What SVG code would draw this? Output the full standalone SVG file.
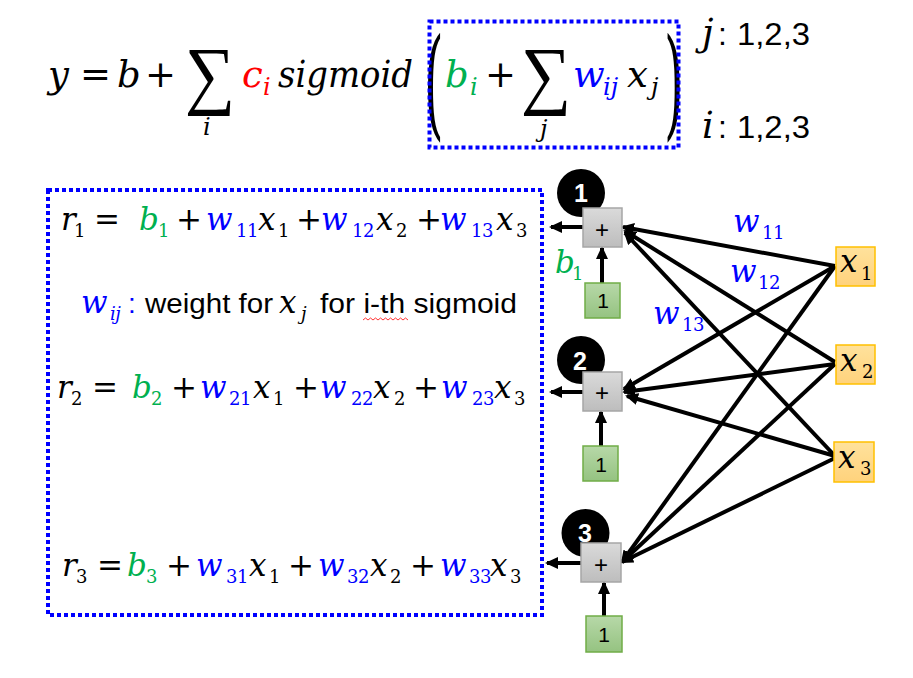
<svg xmlns="http://www.w3.org/2000/svg" width="913" height="678" viewBox="0 0 913 678">
<defs>
<style>
.mi{font-family:"DejaVu Serif","Liberation Serif",serif;font-style:italic}
.up{font-family:"DejaVu Serif","Liberation Serif",serif}
.sg{font-family:"Liberation Serif","DejaVu Serif",serif}
.sans{font-family:"Liberation Sans","Noto Sans",sans-serif}
.big{font-size:37px}
.bsub{font-size:24px}
.eq{font-size:31px}
.sub{font-size:18px;letter-spacing:-0.5px}
.blue{fill:#0000ff}
.green{fill:#00b050}
.red{fill:#ff0000}
.dash{fill:none;stroke:#0000ff;stroke-width:4;stroke-dasharray:4 3}
.conn{stroke:#000;stroke-width:4;fill:none}
.plus{fill:url(#gGray);stroke:#a6a6a6;stroke-width:1.5}
.one{fill:url(#gGreen);stroke:#70ad47;stroke-width:1.5}
.inp{fill:url(#gYellow);stroke:#ffc000;stroke-width:1.5}
.num{font-family:"Liberation Sans","DejaVu Sans",sans-serif;font-weight:bold;font-size:25px;fill:#fff;text-anchor:middle}
.lbl{font-family:"Liberation Sans","DejaVu Sans",sans-serif;font-size:21px;fill:#000;text-anchor:middle}
</style>
<linearGradient id="gGray" x1="0" y1="0" x2="0" y2="1"><stop offset="0" stop-color="#dadada"/><stop offset="1" stop-color="#bdbdbd"/></linearGradient>
<linearGradient id="gGreen" x1="0" y1="0" x2="0" y2="1"><stop offset="0" stop-color="#b7d8a8"/><stop offset="1" stop-color="#95c381"/></linearGradient>
<linearGradient id="gYellow" x1="0" y1="0" x2="0" y2="1"><stop offset="0" stop-color="#ffe29c"/><stop offset="1" stop-color="#ffd27c"/></linearGradient>
<marker id="ah" markerUnits="userSpaceOnUse" markerWidth="14" markerHeight="12" viewBox="0 0 14 12" refX="11" refY="6" orient="auto"><path d="M0,0 L13,6 L0,12 z" fill="#000"/></marker>
</defs>
<rect x="0" y="0" width="913" height="678" fill="#fff"/>

<g id="formula">
<text class="mi big" x="48" y="87">y</text>
<text class="up big" x="80" y="87">=</text>
<text class="mi big" x="117" y="87">b</text>
<text class="up big" x="145" y="87">+</text>
<text class="sg" x="0" y="0" style="font-size:76px" transform="translate(185 100) scale(0.93 1)">∑</text>
<text class="mi bsub" x="203" y="135">i</text>
<text class="mi big red" x="242" y="87">c</text>
<text class="mi bsub red" x="263" y="95">i</text>
<text class="mi big" x="278" y="87" textLength="135" lengthAdjust="spacingAndGlyphs">sigmoid</text>
<text class="up" x="0" y="0" style="font-size:120px" transform="translate(424 124) scale(0.42 1)">(</text>
<text class="mi big green" x="445" y="87">b</text>
<text class="mi bsub green" x="470" y="95">i</text>
<text class="up big" x="485" y="87">+</text>
<text class="sg" x="0" y="0" style="font-size:76px" transform="translate(521 100) scale(0.93 1)">∑</text>
<text class="mi bsub" x="540" y="137">j</text>
<text class="mi big blue" x="573" y="87">w</text>
<text class="mi bsub blue" x="603" y="95">ij</text>
<text class="mi big" x="627" y="87">x</text>
<text class="mi bsub" x="651" y="95">j</text>
<text class="up" x="0" y="0" style="font-size:120px" transform="translate(664 124) scale(0.42 1)">)</text>
<rect class="dash" x="429.5" y="21.5" width="249" height="126"/>
<text class="mi big" x="702" y="45">j</text>
<text class="sans" x="718" y="45" style="font-size:32px">:</text>
<text class="sans" x="737" y="45" style="font-size:32px" textLength="73" lengthAdjust="spacingAndGlyphs">1,2,3</text>
<text class="mi big" x="702" y="138">i</text>
<text class="sans" x="718" y="138" style="font-size:32px">:</text>
<text class="sans" x="737" y="138" style="font-size:32px" textLength="73" lengthAdjust="spacingAndGlyphs">1,2,3</text>
</g>

<g id="equations">
<rect class="dash" x="48" y="190" width="494" height="425"/>
<text class="eq">
<tspan class="mi" x="61" y="230">r</tspan><tspan class="up sub" x="74" y="237">1</tspan>
<tspan class="up" x="94" y="230">=</tspan>
<tspan class="mi green" x="139" y="230">b</tspan><tspan class="up sub green" x="158" y="237">1</tspan>
<tspan class="up" x="176" y="230">+</tspan>
<tspan class="mi blue" x="206" y="230">w</tspan><tspan class="up sub blue" x="236" y="237">11</tspan>
<tspan class="mi" x="258" y="230">x</tspan><tspan class="up sub" x="278" y="237">1</tspan>
<tspan class="up" x="296" y="230">+</tspan>
<tspan class="mi blue" x="321" y="230">w</tspan><tspan class="up sub blue" x="352" y="237">12</tspan>
<tspan class="mi" x="376" y="230">x</tspan><tspan class="up sub" x="396" y="237">2</tspan>
<tspan class="up" x="416" y="230">+</tspan>
<tspan class="mi blue" x="440" y="230">w</tspan><tspan class="up sub blue" x="471" y="237">13</tspan>
<tspan class="mi" x="496" y="230">x</tspan><tspan class="up sub" x="516" y="237">3</tspan>
</text>
<text class="eq">
<tspan class="mi blue" x="81" y="313">w</tspan><tspan class="mi sub blue" x="110" y="320">ij</tspan><tspan class="sans blue" x="128" y="313" style="font-size:28px">:</tspan>
</text>
<text class="sans" x="145" y="313" style="font-size:27px" textLength="128" lengthAdjust="spacingAndGlyphs">weight for</text>
<text class="mi eq" x="279" y="313">x</text>
<text class="mi sub" x="301" y="320">j</text>
<text class="sans" x="320" y="313" style="font-size:27px" textLength="197" lengthAdjust="spacingAndGlyphs">for i-th sigmoid</text>
<path d="M363,320 l2.5,-2 l2.5,2 l2.5,-2 l2.5,2 l2.5,-2 l2.5,2 l2.5,-2 l2.5,2 l2.5,-2 l2.5,2 l2.5,-2 l2.5,2 l2.5,-2 l2.5,2 l2.5,-2 l2.5,2 l2.5,-2 l2.5,2" fill="none" stroke="#ff0000" stroke-width="0.8"/>
<text class="eq">
<tspan class="mi" x="57" y="398">r</tspan><tspan class="up sub" x="71" y="405">2</tspan>
<tspan class="up" x="92" y="398">=</tspan>
<tspan class="mi green" x="132" y="398">b</tspan><tspan class="up sub green" x="151" y="405">2</tspan>
<tspan class="up" x="171" y="398">+</tspan>
<tspan class="mi blue" x="200" y="398">w</tspan><tspan class="up sub blue" x="229" y="405">21</tspan>
<tspan class="mi" x="253" y="398">x</tspan><tspan class="up sub" x="273" y="405">1</tspan>
<tspan class="up" x="293" y="398">+</tspan>
<tspan class="mi blue" x="320" y="398">w</tspan><tspan class="up sub blue" x="351" y="405">22</tspan>
<tspan class="mi" x="373" y="398">x</tspan><tspan class="up sub" x="394" y="405">2</tspan>
<tspan class="up" x="413" y="398">+</tspan>
<tspan class="mi blue" x="441" y="398">w</tspan><tspan class="up sub blue" x="472" y="405">23</tspan>
<tspan class="mi" x="494" y="398">x</tspan><tspan class="up sub" x="514" y="405">3</tspan>
</text>
<text class="eq">
<tspan class="mi" x="62" y="576">r</tspan><tspan class="up sub" x="76" y="583">3</tspan>
<tspan class="up" x="97" y="576">=</tspan>
<tspan class="mi green" x="127" y="576">b</tspan><tspan class="up sub green" x="146" y="583">3</tspan>
<tspan class="up" x="166" y="576">+</tspan>
<tspan class="mi blue" x="196" y="576">w</tspan><tspan class="up sub blue" x="226" y="583">31</tspan>
<tspan class="mi" x="249" y="576">x</tspan><tspan class="up sub" x="269" y="583">1</tspan>
<tspan class="up" x="288" y="576">+</tspan>
<tspan class="mi blue" x="318" y="576">w</tspan><tspan class="up sub blue" x="347" y="583">32</tspan>
<tspan class="mi" x="370" y="576">x</tspan><tspan class="up sub" x="390" y="583">2</tspan>
<tspan class="up" x="410" y="576">+</tspan>
<tspan class="mi blue" x="440" y="576">w</tspan><tspan class="up sub blue" x="469" y="583">33</tspan>
<tspan class="mi" x="490" y="576">x</tspan><tspan class="up sub" x="510" y="583">3</tspan>
</text>
</g>

<g id="connectors">
<line class="conn" x1="835" y1="266" x2="623" y2="227" marker-end="url(#ah)"/>
<line class="conn" x1="835" y1="362" x2="625" y2="231" marker-end="url(#ah)"/>
<line class="conn" x1="835" y1="456" x2="625" y2="233" marker-end="url(#ah)"/>
<line class="conn" x1="835" y1="266" x2="624" y2="389" marker-end="url(#ah)"/>
<line class="conn" x1="835" y1="364" x2="624" y2="392" marker-end="url(#ah)"/>
<line class="conn" x1="835" y1="456" x2="627" y2="396" marker-end="url(#ah)"/>
<line class="conn" x1="835" y1="266" x2="622" y2="562" marker-end="url(#ah)"/>
<line class="conn" x1="835" y1="364" x2="622" y2="562" marker-end="url(#ah)"/>
<line class="conn" x1="835" y1="458" x2="622" y2="562" marker-end="url(#ah)"/>
<line class="conn" x1="583" y1="227" x2="551" y2="227" marker-end="url(#ah)"/>
<line class="conn" x1="583" y1="392" x2="551" y2="392" marker-end="url(#ah)"/>
<line class="conn" x1="581" y1="563" x2="547" y2="563" marker-end="url(#ah)"/>
<line class="conn" x1="602" y1="283" x2="602" y2="248" marker-end="url(#ah)"/>
<line class="conn" x1="601" y1="446" x2="601" y2="412" marker-end="url(#ah)"/>
<line class="conn" x1="604" y1="616" x2="604" y2="583" marker-end="url(#ah)"/>
</g>

<g id="labels">
<text class="mi eq blue" x="733" y="232">w</text><text class="up sub blue" x="762" y="239">11</text>
<text class="mi eq blue" x="730" y="282">w</text><text class="up sub blue" x="758" y="289">12</text>
<text class="mi eq blue" x="653" y="324">w</text><text class="up sub blue" x="682" y="331">13</text>
<text class="mi eq green" x="555" y="273">b</text><text class="up sub green" x="572" y="280">1</text>
</g>

<g id="sum1">
<circle cx="581" cy="193" r="24" fill="#000"/>
<text class="num" x="581" y="202">1</text>
<rect class="plus" x="583" y="208" width="39" height="39"/>
<text class="lbl" x="602" y="238" style="font-size:24px">+</text>
</g>
<g id="sum2">
<circle cx="581" cy="360" r="24" fill="#000"/>
<text class="num" x="580" y="370">2</text>
<rect class="plus" x="583" y="372" width="39" height="39"/>
<text class="lbl" x="602" y="401" style="font-size:24px">+</text>
</g>
<g id="sum3">
<circle cx="585.5" cy="533" r="24" fill="#000"/>
<text class="num" x="585" y="542">3</text>
<rect class="plus" x="581" y="543" width="40" height="39"/>
<text class="lbl" x="601" y="573" style="font-size:24px">+</text>
</g>

<g id="bias1"><rect class="one" x="585" y="283" width="35" height="35"/><text class="lbl" x="603" y="308">1</text></g>
<g id="bias2"><rect class="one" x="583" y="446" width="35" height="35"/><text class="lbl" x="601" y="472">1</text></g>
<g id="bias3"><rect class="one" x="586" y="616" width="36" height="36"/><text class="lbl" x="604" y="642">1</text></g>

<g id="x1"><rect class="inp" x="836" y="247" width="39" height="39"/><text class="mi eq" x="840" y="272">x</text><text class="up sub" x="861" y="280">1</text></g>
<g id="x2"><rect class="inp" x="836" y="345" width="39" height="39"/><text class="mi eq" x="840" y="371">x</text><text class="up sub" x="862" y="378">2</text></g>
<g id="x3"><rect class="inp" x="834" y="442" width="40" height="40"/><text class="mi eq" x="838" y="468">x</text><text class="up sub" x="860" y="475">3</text></g>
</svg>
